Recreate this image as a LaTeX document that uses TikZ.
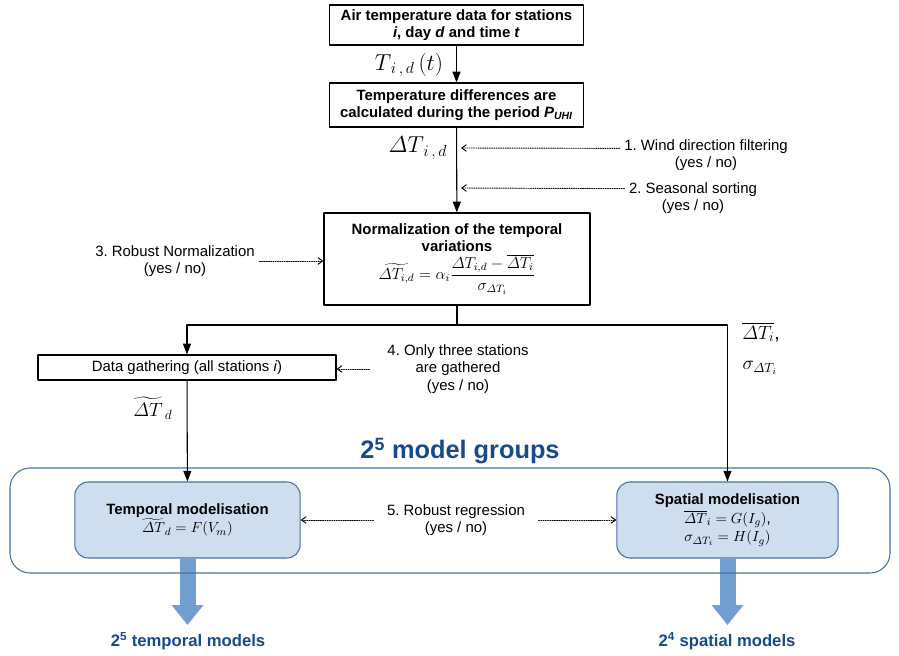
\documentclass[tikz,border=0pt]{standalone}
\usepackage{amsmath}
\usepackage{fontspec}
\setmainfont{Liberation Sans}
\usetikzlibrary{arrows.meta,positioning,backgrounds}
\definecolor{modfill}{RGB}{207,222,239}
\definecolor{modline}{RGB}{72,112,165}
\definecolor{fatblue}{RGB}{114,159,207}
\definecolor{titleblue}{RGB}{22,74,140}
\begin{document}
\frenchspacing
\begin{tikzpicture}[x=0.75pt,y=-0.75pt,line cap=round,line join=round,
  flowbox/.style={draw,line width=0.9pt,align=center,font=\fontsize{11.2}{12.8}\selectfont\bfseries,inner sep=2pt},
  modbox/.style={draw=modline,fill=modfill,line width=0.8pt,rounded corners=10pt,align=center,font=\fontsize{11.2}{14}\selectfont\bfseries},
  opttext/.style={align=center,font=\fontsize{11.2}{13}\selectfont},
  flow/.style={line width=0.8pt,-{Triangle[length=8pt,width=6pt]}},
  opt/.style={densely dotted,line width=0.7pt,-{Straight Barb[length=3.5pt,width=5pt]}},
  fat/.style={fatblue,line width=12pt,-{Triangle[length=15pt,width=23pt]}},
  outtext/.style={text=titleblue,font=\fontsize{12.5}{14}\selectfont\bfseries}]
  \useasboundingbox (0,0) rectangle (899,656);
  \node[flowbox,minimum width=190pt,minimum height=30pt] (air) at (456.5,25) {Air temperature data for stations\\\textit{i}, day \textit{d} and time \textit{t}};
  \node[flowbox,minimum width=190pt,minimum height=33pt] (diff) at (456.5,105) {Temperature differences are\\calculated during the period \textit{P}\textsubscript{\textit{UHI}}};
  \node[flowbox,minimum width=199.5pt,minimum height=69pt] (norm) at (457,259) {Normalization of the temporal\\variations\\[1pt]
    \mdseries\large$\widetilde{\varDelta T_{i,d}}=\alpha_i\dfrac{\varDelta T_{i,d}-\overline{\varDelta T_i}}{\sigma_{\varDelta T_i}}$};
  \node[draw,line width=0.9pt,minimum width=223.5pt,minimum height=18.75pt,font=\fontsize{11.2}{13}\selectfont] (gather) at (187,367.5) {Data gathering (all stations \textit{i})};
  \node[text=titleblue,font=\fontsize{19}{22}\selectfont\bfseries] (groups) at (460,451) {2\textsuperscript{5} model groups};
  \node[outtext] (tmodels) at (188,641) {2\textsuperscript{5} temporal models};
  \node[outtext] (smodels) at (727,641) {2\textsuperscript{4} spatial models};
  \node[modbox,minimum width=169pt,minimum height=57pt] (temporal) at (187.5,520) {Temporal modelisation\\\mdseries$\widetilde{\varDelta T}_d=F(V_m)$};
  \node[modbox,minimum width=166pt,minimum height=57pt] (spatial) at (727.5,520) {Spatial modelisation\\\mdseries$\overline{\varDelta T}_i=G(I_g)$,\\\mdseries$\sigma_{\varDelta T_i}=H(I_g)$};
  \coordinate (ttip) at (187.5,625);
  \coordinate (stip) at (727.5,625);
  \begin{scope}[on background layer]
    \draw[fat] (temporal.south) -- (ttip);
    \draw[fat] (spatial.south) -- (stip);
    \draw[modline,line width=0.8pt,rounded corners=15pt] (10,468) rectangle (890,573);
  \end{scope}
  \coordinate (split) at (457,325);
  \draw[flow] (air) -- (diff);
  \draw[flow] (diff) -- (norm);
  \draw[line width=0.8pt] (norm) -- (split);
  \draw[flow] (split) -| (gather);
  \draw[flow] (split) -| (spatial);
  \draw[flow] (gather) -- (temporal);
  \node[font=\LARGE] (tval) at (409,65) {$T_{\,i\,,\,d}\,(t)$};
  \node[font=\LARGE] (dval) at (418,148) {$\varDelta T_{\,i\,,\,d}$};
  \node[font=\Large] (dtil) at (153,408) {$\widetilde{\varDelta T}_{\,d}$};
  \node[font=\Large] (mval) at (761,332) {$\overline{\varDelta T_i}$,};
  \node[font=\Large] (sval) at (760,368) {$\sigma_{\varDelta T_i}$};
  \node[opttext] (wind) at (706,155) {1. Wind direction filtering\\(yes / no)};
  \node[opttext] (seas) at (693,198) {2. Seasonal sorting\\(yes / no)};
  \node[opttext] (robnorm) at (175,261) {3. Robust Normalization\\(yes / no)};
  \node[opttext] (three) at (458,369) {4. Only three stations\\are gathered\\(yes / no)};
  \node[opttext,inner xsep=10pt] (robreg) at (456,520) {5. Robust regression\\(yes / no)};
  \coordinate (windend) at (461,148);
  \coordinate (seasend) at (461,188);
  \draw[opt] ([yshift=5pt]wind.west) -- (windend);
  \draw[opt] ([yshift=7pt]seas.west) -- (seasend);
  \draw[opt] (robnorm.east) -- (robnorm.east -| norm.west);
  \draw[opt] ([xshift=-10pt]three.west) -- (three.west -| gather.east);
  \draw[opt] (robreg.west) -- (robreg.west -| temporal.east);
  \draw[opt] (robreg.east) -- (robreg.east -| spatial.west);
\end{tikzpicture}
\end{document}
